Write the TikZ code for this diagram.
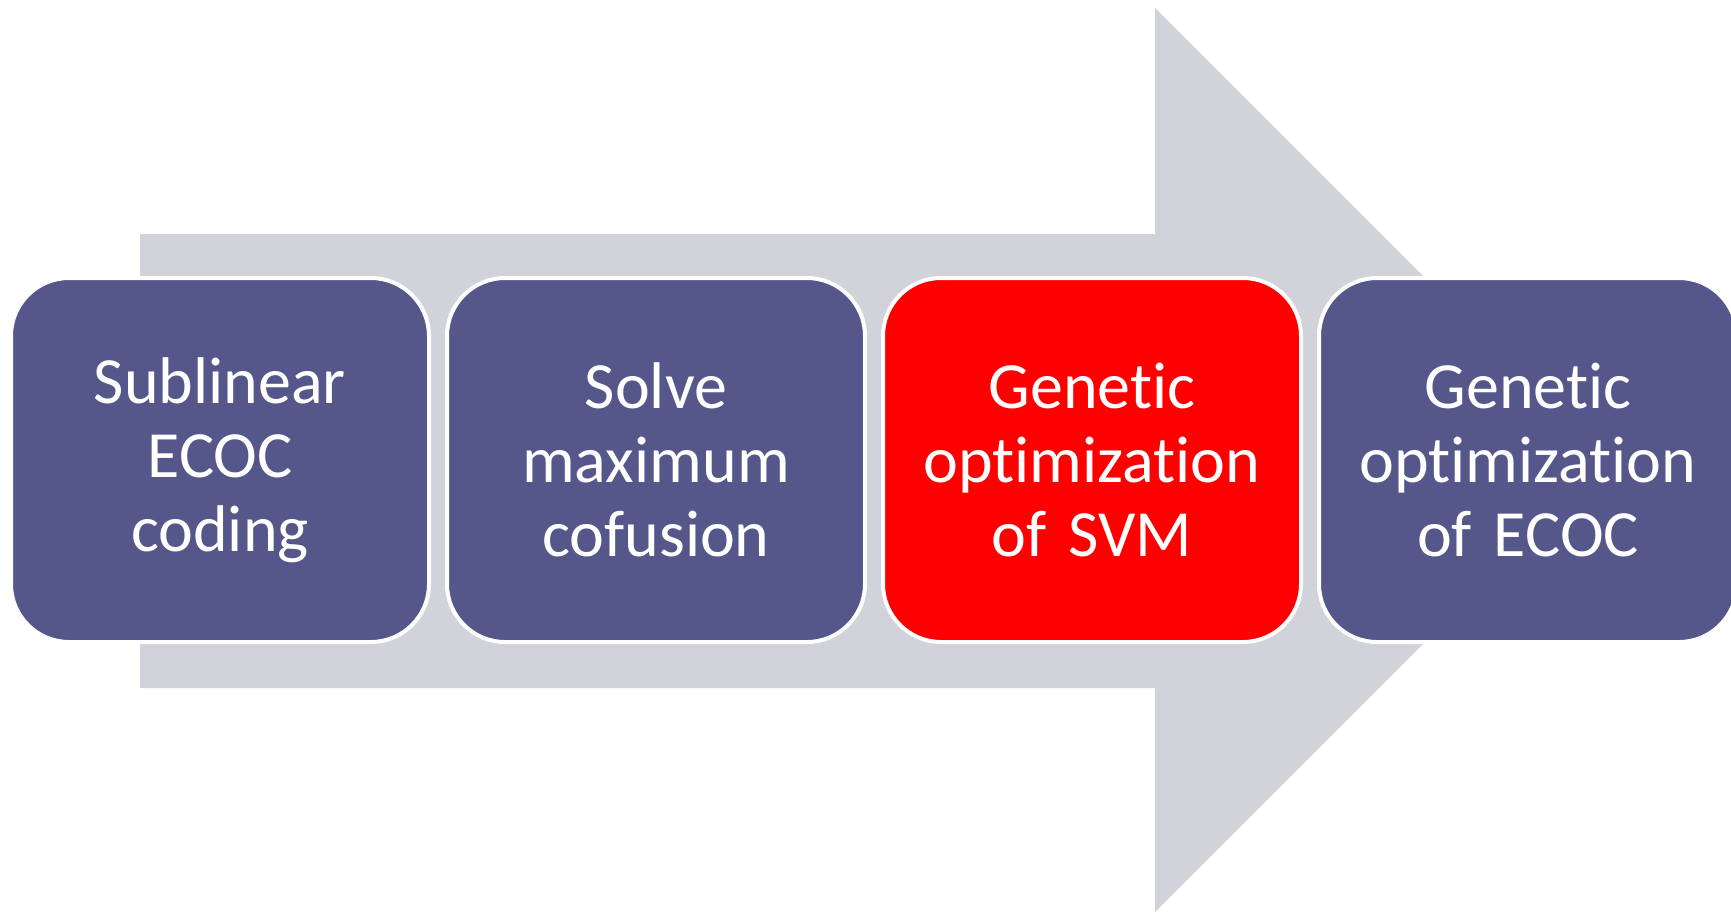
\documentclass[tikz,border=0pt]{standalone}
\usepackage{fontspec}
\setmainfont[RawFeature=-liga]{Carlito}
\definecolor{stepblue}{HTML}{55578B}
\definecolor{stepred}{HTML}{FF0000}
\definecolor{arrowgray}{HTML}{D1D2DA}
\begin{document}
\begin{tikzpicture}[x=0.5pt,y=-0.5pt,
  stepbox/.style={draw=white, line width=2pt, rounded corners=29pt,
    minimum width=209pt, minimum height=182pt, inner sep=0pt,
    text=white, align=center, text width=200pt,
    font=\fontsize{33pt}{37pt}\selectfont},
  bigarrow/.style={fill=arrowgray, draw=none}]
\useasboundingbox (0,0) rectangle (1731,912);
% background process arrow
\fill[bigarrow] (140,234) -- (1155,234) -- (1155,8) -- (1607,460)
  -- (1155,912) -- (1155,688) -- (140,688) -- cycle;
% process steps
\node[stepbox, fill=stepblue] (s1) at (220,460) {Sublinear\\ECOC\\coding};
\node[stepbox, fill=stepblue] (s2) at (656,460) {Solve\\maximum\\cofusion};
\node[stepbox, fill=stepred]  (s3) at (1092,460) {Genetic\\optimization\\of SVM};
\node[stepbox, fill=stepblue] (s4) at (1528,460) {Genetic\\optimization\\of ECOC};
\end{tikzpicture}
\end{document}
